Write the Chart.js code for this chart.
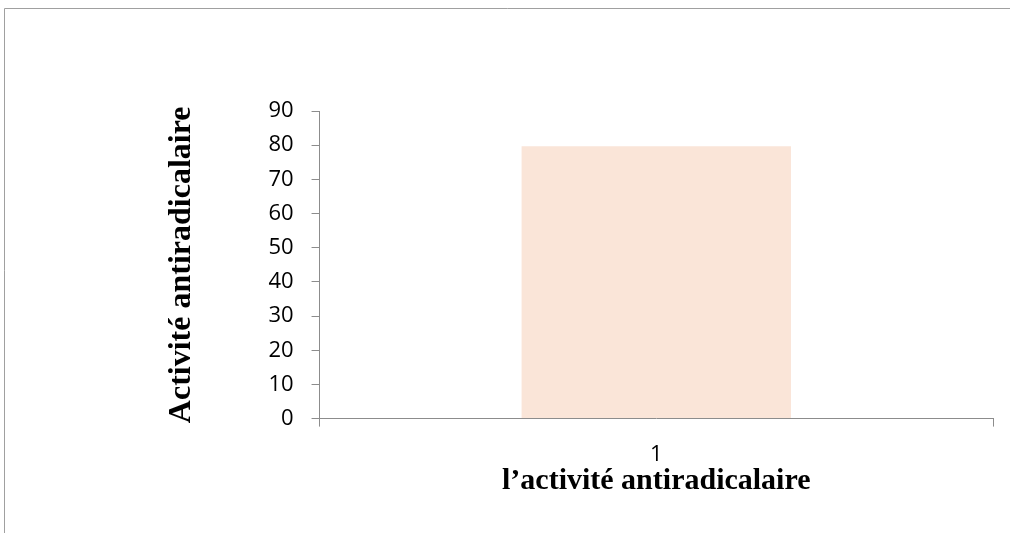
<!DOCTYPE html>
<html lang="fr">
<head>
    <meta charset="UTF-8">
    <title>Activité antiradicalaire</title>
    <script src="https://cdn.jsdelivr.net/npm/chart.js"></script>
    <style>
        html, body {
            margin: 0;
            padding: 0;
            background: #fff;
        }
        #wrap {
            width: 1010px;
            height: 533px;
            position: relative;
        }
    </style>
</head>
<body>
    <div id="wrap"><canvas id="graphe"></canvas></div>

    <script>
        // données
        const categories = ['1'];
        const valeurs = [79.7];
        const yMin = 0;
        const yMax = 90;
        const yPas = 10;

        // cadre gris autour du graphique
        const cadre = {
            id: 'cadre',
            beforeDraw(chart) {
                const c = chart.ctx;
                c.save();
                c.strokeStyle = '#a0a0a0';
                c.lineWidth = 1;
                c.beginPath();
                c.moveTo(4.5, chart.height);
                c.lineTo(4.5, 8.5);
                c.lineTo(chart.width, 8.5);
                c.stroke();
                c.restore();
            }
        };

        const gris = '#8c8c8c';

        new Chart(document.getElementById('graphe'), {
            type: 'bar',
            data: {
                labels: categories,
                datasets: [{
                    data: valeurs,
                    backgroundColor: '#fae5d8',
                    borderWidth: 0,
                    barPercentage: 0.4,
                    categoryPercentage: 1
                }]
            },
            options: {
                responsive: true,
                maintainAspectRatio: false,
                animation: false,
                layout: {
                    padding: { left: 163, right: 17, top: 111, bottom: 40 }
                },
                plugins: {
                    legend: { display: false },
                    tooltip: { enabled: false }
                },
                scales: {
                    x: {
                        grid: {
                            display: true,
                            drawOnChartArea: false,
                            tickLength: 8,
                            color: gris,
                            offset: true
                        },
                        border: { color: gris, width: 1 },
                        ticks: {
                            color: '#000',
                            padding: 15,
                            font: { family: 'Open Sans', size: 22 }
                        },
                        title: {
                            display: true,
                            text: 'l’activité antiradicalaire',
                            color: '#000',
                            padding: { top: -14, bottom: 0 },
                            font: { family: 'Liberation Serif', size: 30, weight: 'bold', lineHeight: 0.8 }
                        }
                    },
                    y: {
                        min: yMin,
                        max: yMax,
                        ticks: {
                            stepSize: yPas,
                            color: '#000',
                            padding: 18,
                            font: { family: 'Open Sans', size: 22 }
                        },
                        grid: {
                            display: true,
                            drawOnChartArea: false,
                            tickLength: 8,
                            color: gris
                        },
                        border: { color: gris, width: 1 },
                        title: {
                            display: true,
                            text: 'Activité antiradicalaire',
                            color: '#000',
                            padding: { top: 0, bottom: 49 },
                            font: { family: 'Liberation Serif', size: 32, weight: 'bold' }
                        }
                    }
                }
            },
            plugins: [cadre]
        });
    </script>
</body>
</html>
